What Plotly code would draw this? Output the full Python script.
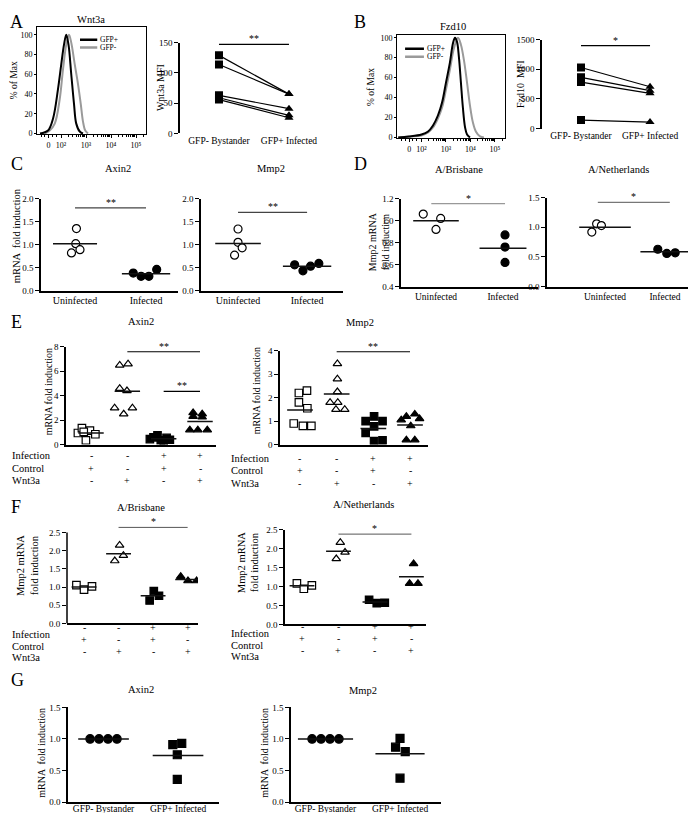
import numpy as np
import plotly.graph_objects as go

W, H = 696, 813
FONT = "Liberation Serif, Tinos, DejaVu Serif, Times New Roman, serif"

# ------------------------------------------------------------------ data
# Histograms (x in display decades: "0" sits at 1.5, 10^2 at 2, 10^3 at 3 ...)
hist_tickvals = [1.5, 2, 3, 4, 5]
hist_ticktext = ["0", "10\u00b2", "10\u00b3", "10\u2074", "10\u2075"]
hist_yticks = [0, 20, 40, 60, 80, 100]

wnt3a_pos_x = [1.16, 1.48, 1.68, 1.88, 2.01, 2.12, 2.21, 2.30, 2.41, 2.52, 2.61, 2.75, 2.88]
wnt3a_pos_y = [0, 3, 15, 45, 70, 90, 100, 90, 60, 30, 10, 2, 0]
wnt3a_neg_x = [1.35, 1.55, 1.75, 1.95, 2.08, 2.21, 2.32, 2.41, 2.55, 2.68, 2.79, 2.88, 2.97, 3.08]
wnt3a_neg_y = [0, 3, 10, 35, 65, 90, 100, 92, 70, 50, 30, 12, 3, 0]

fzd10_pos_x = [1.05, 1.5, 2.0, 2.27, 2.47, 2.67, 2.84, 3.0, 3.16, 3.29, 3.37, 3.45, 3.53, 3.61, 3.69, 3.78, 3.86, 3.98]
fzd10_pos_y = [0, 1, 3, 6, 12, 22, 35, 55, 75, 95, 100, 96, 80, 55, 30, 10, 3, 0]
fzd10_neg_x = [1.05, 1.5, 2.0, 2.27, 2.47, 2.67, 2.84, 3.0, 3.16, 3.33, 3.49, 3.61, 3.73, 3.86, 3.98, 4.1, 4.22, 4.39, 4.55]
fzd10_neg_y = [0, 1, 2, 5, 10, 19, 30, 48, 68, 90, 100, 93, 78, 55, 32, 15, 6, 1, 0]

# Paired MFI
mfi_cats = ["GFP- Bystander", "GFP+ Infected"]
wnt3a_bystander = [129, 114, 63, 59, 56]
wnt3a_infected = [65, 65, 41, 30, 26]
fzd10_bystander = [1030, 865, 785, 143]
fzd10_infected = [705, 640, 595, 110]

# C
c_cats = ["Uninfected", "Infected"]
c_axin2_uninf = [1.35, 1.02, 0.82, 0.89]
c_axin2_uninf_off = [0.02, 0.01, -0.05, 0.07]
c_axin2_inf = [0.38, 0.31, 0.31, 0.46]
c_axin2_inf_off = [-0.18, -0.07, 0.04, 0.15]
c_mmp2_uninf = [1.34, 1.05, 0.93, 0.77]
c_mmp2_uninf_off = [0.0, 0.0, 0.06, -0.05]
c_mmp2_inf = [0.56, 0.43, 0.53, 0.59]
c_mmp2_inf_off = [-0.18, -0.06, 0.05, 0.17]

# D
d_bris_uninf = [1.06, 1.02, 0.92]
d_bris_uninf_off = [-0.19, 0.07, 0.0]
d_bris_inf = [0.87, 0.76, 0.62]
d_bris_inf_off = [0.03, 0.03, 0.03]
d_neth_uninf = [1.06, 1.03, 0.92]
d_neth_uninf_off = [-0.14, -0.06, -0.22]
d_neth_inf = [0.63, 0.56, 0.57]
d_neth_inf_off = [-0.12, 0.03, 0.17]

# E  (groups: control, Wnt3a, infection+control, infection+Wnt3a)
e_axin2 = [
    [0.95, 1.35, 1.15, 0.85, 0.35, 1.05],
    [6.5, 6.6, 4.6, 4.4, 3.0, 2.5, 3.0],
    [0.75, 0.6, 0.55, 0.45, 0.4, 0.35, 0.25],
    [2.6, 2.5, 2.3, 2.25, 1.2, 1.2, 1.2],
]
e_axin2_off = [
    [-0.36, -0.25, -0.03, 0.12, -0.14, -0.2],
    [-0.21, 0.02, -0.21, -0.01, -0.35, -0.1, 0.14],
    [-0.17, -0.28, 0.08, -0.38, 0.17, -0.08, 0.0],
    [-0.19, 0.06, -0.19, 0.06, -0.28, -0.06, 0.2],
]
e_mmp2 = [
    [2.2, 2.3, 1.8, 1.55, 0.9, 0.8, 0.8],
    [3.45, 2.8, 2.25, 1.8, 1.8, 1.5, 1.5],
    [1.2, 1.0, 1.0, 0.78, 0.5, 0.15, 0.18],
    [1.3, 1.2, 1.1, 1.05, 0.8, 0.2, 0.2],
]
e_mmp2_off = [
    [-0.03, 0.19, -0.03, 0.2, -0.17, 0.08, 0.31],
    [0.02, 0.02, 0.02, -0.18, 0.03, -0.02, 0.22],
    [0.02, -0.21, 0.25, 0.02, -0.21, 0.02, 0.25],
    [0.13, -0.1, 0.26, -0.24, 0.02, -0.1, 0.13],
]

# F
f_bris = [[1.05, 0.93, 1.02], [2.15, 1.72, 1.87], [0.63, 0.89, 0.76], [1.29, 1.17, 1.17]]
f_bris_off = [[-0.22, 0.0, 0.23], [0.03, -0.11, 0.14], [-0.1, 0.02, 0.17], [-0.2, 0.01, 0.26]]
f_neth = [[1.08, 0.94, 1.03], [2.16, 1.73, 1.9], [0.65, 0.56, 0.57], [1.6, 1.08, 1.08]]
f_neth_off = [[-0.14, 0.05, 0.27], [0.05, -0.06, 0.18], [-0.16, 0.05, 0.27], [0.06, -0.05, 0.18]]

# G
g_cats = ["GFP- Bystander", "GFP+ Infected"]
g_axin2_by = [1.0, 1.0, 1.0, 1.0]
g_axin2_by_off = [-0.18, -0.06, 0.06, 0.18]
g_axin2_inf = [0.91, 0.93, 0.75, 0.36]
g_axin2_inf_off = [-0.07, 0.05, -0.01, -0.01]
g_mmp2_by = [1.0, 1.0, 1.0, 1.0]
g_mmp2_by_off = [-0.18, -0.06, 0.06, 0.18]
g_mmp2_inf = [1.01, 0.87, 0.8, 0.38]
g_mmp2_inf_off = [0.0, -0.06, 0.07, 0.0]

# treatment table
row_labels = ["Infection", "Control", "Wnt3a"]
infection_signs = ["-", "-", "+", "+"]
control_signs = ["+", "-", "+", "-"]
wnt3a_signs = ["-", "+", "-", "+"]

# significance bars: (group from, group to, height, label)
sig_a = (0, 1, 147, "**")
sig_b = (0, 1, 1400, "*")
sig_c_axin2 = (0, 1, 1.8, "**")
sig_c_mmp2 = (0, 1, 1.7, "**")
sig_d_bris = (-0.07, 1.03, 1.155, "*")
sig_d_neth = (-0.12, 1.08, 1.42, "*")
sig_e_axin2 = [(1, 3, 7.6, "**"), (2, 3, 4.36, "**")]
sig_e_mmp2 = (1, 3, 3.96, "**")
sig_f_bris = (1, 3, 2.64, "*")
sig_f_neth = (1, 3, 2.38, "*")

# ------------------------------------------------------------------ figure
fig = go.Figure()
layout = dict(width=W, height=H, margin=dict(l=0, r=0, t=0, b=0),
              paper_bgcolor="white", plot_bgcolor="white", showlegend=False,
              font=dict(family=FONT, color="black"))
annotations = []
shapes = []


def tf(size):
    return dict(family=FONT, size=size, color="black")


def make_axes(n, box, xr, yr, xopts, yopts):
    l, r, t, b = box
    base = dict(showgrid=False, zeroline=False, fixedrange=True,
                linecolor="black", tickcolor="black")
    sx = "" if n == 1 else str(n)
    xa = dict(base, domain=[l / W, r / W], range=xr, anchor="y" + sx)
    xa.update(xopts)
    ya = dict(base, domain=[1 - b / H, 1 - t / H], range=yr, anchor="x" + sx)
    ya.update(yopts)
    layout["xaxis" + sx] = xa
    layout["yaxis" + sx] = ya
    return "x" + sx, "y" + sx


def text(x, y, s, size=10.5, xanchor="center", yanchor="middle", angle=0, xref="paper", yref="paper"):
    if xref == "paper":
        x = x / W
    if yref == "paper":
        y = 1 - y / H
    annotations.append(dict(x=x, y=y, xref=xref, yref=yref, text=s, showarrow=False,
                            font=tf(size), xanchor=xanchor, yanchor=yanchor,
                            textangle=angle, borderpad=0))


def line_trace(xa, ya, xs, ys, color="black", width=1.5, shape="linear"):
    fig.add_trace(go.Scatter(x=xs, y=ys, xaxis=xa, yaxis=ya, mode="lines",
                             line=dict(color=color, width=width, shape=shape),
                             hoverinfo="skip"))


def sig(xa, ya, spec, color="black", width=1.0):
    x0, x1, yv, lab = spec
    line_trace(xa, ya, [x0, x1], [yv, yv], color=color, width=width)
    annotations.append(dict(x=(x0 + x1) / 2, y=yv, xref=xa, yref=ya, text=lab,
                            showarrow=False, yanchor="bottom", font=tf(10), yshift=-1,
                            borderpad=0))


def group(xa, ya, cat, vals, offs, symbol, filled, size, hw):
    xs = [cat + o for o in offs]
    fig.add_trace(go.Scatter(x=xs, y=vals, xaxis=xa, yaxis=ya, mode="markers",
                             marker=dict(symbol=symbol, size=size,
                                         color="black" if filled else "white",
                                         line=dict(color="black", width=1.2)),
                             hoverinfo="skip"))
    m = float(np.mean(vals))
    line_trace(xa, ya, [cat - hw, cat + hw], [m, m], color="#111", width=1.5)


def legend_entry(xa, ya, x0, x1, y, label, color):
    shapes.append(dict(type="line", xref=xa, yref=ya, x0=x0, x1=x1, y0=y, y1=y,
                       line=dict(color=color, width=2.5)))
    annotations.append(dict(x=x1, y=y, xref=xa, yref=ya, text=label, showarrow=False,
                            xanchor="left", xshift=2, font=tf(7.5), borderpad=0))


minor_vals = [d + np.log10(k) for d in (2, 3, 4) for k in range(2, 10)] + \
             [5 + np.log10(k) for k in (2, 3)] + [1.2, 1.35, 1.65, 1.8]

hist_x = dict(showline=True, mirror=True, linewidth=1, ticks="outside", ticklen=3,
              tickwidth=1, tickvals=hist_tickvals, ticktext=hist_ticktext, tickfont=tf(8),
              minor=dict(tickvals=minor_vals, ticks="outside", ticklen=2, tickcolor="black"))
hist_y = dict(showline=True, mirror=True, linewidth=1, ticks="outside", ticklen=2,
              tickwidth=1, tickvals=hist_yticks, tickfont=tf(8))


def yscat(vals, fmt=None, size=9):
    d = dict(showline=True, linewidth=1.5, ticks="outside", ticklen=4, tickwidth=1.2,
             tickvals=vals, tickfont=tf(size))
    if fmt:
        d["tickformat"] = fmt
    return d


def xcat(labels, size=10, line=True, standoff=0):
    return dict(showline=line, linewidth=1.5, ticks="", tickvals=list(range(len(labels))),
                ticktext=labels, tickfont=tf(size), ticklabelstandoff=standoff)


xnone = dict(showline=True, linewidth=1.8, ticks="", showticklabels=False, tickvals=[])

# ---- A histogram
xa, ya = make_axes(1, (29, 138, 14, 123), [1.04, 5.4], [-1, 108], hist_x, hist_y)
line_trace(xa, ya, wnt3a_neg_x, wnt3a_neg_y, color="#9a9a9a", width=2, shape="spline")
line_trace(xa, ya, wnt3a_pos_x, wnt3a_pos_y, color="black", width=2, shape="spline")
legend_entry(xa, ya, 2.76, 3.45, 95, "GFP+", "black")
legend_entry(xa, ya, 2.76, 3.45, 87, "GFP-", "#9a9a9a")
text(83, 7, "Wnt3a", 10.5)
text(6, 68, "% of Max", 9.5, angle=-90)

# ---- A paired
xa, ya = make_axes(2, (172, 315, 30, 122), [-0.557, 1.486], [0, 150],
                   xcat(mfi_cats, 9.5, line=False), yscat([0, 50, 100, 150]))
for b, a in zip(wnt3a_bystander, wnt3a_infected):
    line_trace(xa, ya, [0, 1], [b, a], width=1.2)
fig.add_trace(go.Scatter(x=[0] * len(wnt3a_bystander), y=wnt3a_bystander, xaxis=xa, yaxis=ya, mode="markers",
                         marker=dict(symbol="square", size=8, color="black"), hoverinfo="skip"))
fig.add_trace(go.Scatter(x=[1] * len(wnt3a_infected), y=wnt3a_infected, xaxis=xa, yaxis=ya, mode="markers",
                         marker=dict(symbol="triangle-up", size=8, color="black"), hoverinfo="skip"))
sig(xa, ya, sig_a, width=1.2)
text(152, 76, "Wnt3a MFI", 10, angle=-90)

# ---- B histogram
xa, ya = make_axes(3, (389, 497, 22, 127), [1.0, 5.41], [-1, 103], hist_x, hist_y)
line_trace(xa, ya, fzd10_neg_x, fzd10_neg_y, color="#9a9a9a", width=2, shape="spline")
line_trace(xa, ya, fzd10_pos_x, fzd10_pos_y, color="black", width=2, shape="spline")
legend_entry(xa, ya, 1.33, 2.1, 89, "GFP+", "black")
legend_entry(xa, ya, 1.33, 2.1, 81, "GFP-", "#9a9a9a")
text(445, 14, "Fzd10", 10.5)
text(363, 75, "% of Max", 9.5, angle=-90)

# ---- B paired
xa, ya = make_axes(4, (534, 680, 27, 117), [-0.565, 1.55], [0, 1500],
                   xcat(mfi_cats, 9.5, line=False), yscat([0, 500, 1000, 1500]))
for b, a in zip(fzd10_bystander, fzd10_infected):
    line_trace(xa, ya, [0, 1], [b, a], width=1.2)
fig.add_trace(go.Scatter(x=[0] * len(fzd10_bystander), y=fzd10_bystander, xaxis=xa, yaxis=ya, mode="markers",
                         marker=dict(symbol="square", size=8, color="black"), hoverinfo="skip"))
fig.add_trace(go.Scatter(x=[1] * len(fzd10_infected), y=fzd10_infected, xaxis=xa, yaxis=ya, mode="markers",
                         marker=dict(symbol="triangle-up", size=8, color="black"), hoverinfo="skip"))
sig(xa, ya, sig_b, width=1.2)
text(512, 72, "Fzd10  MFI", 10, angle=-90)

# ---- C
xa, ya = make_axes(5, (33, 170, 188, 281), [-0.479, 1.45], [0, 2],
                   xcat(c_cats), yscat([0, 0.5, 1, 1.5, 2], ".1f"))
group(xa, ya, 0, c_axin2_uninf, c_axin2_uninf_off, "circle", False, 8, 0.31)
group(xa, ya, 1, c_axin2_inf, c_axin2_inf_off, "circle", True, 8, 0.34)
sig(xa, ya, sig_c_axin2, color="#444", width=1.2)
text(110, 157, "Axin2")
text(8, 226, "mRNA  fold induction", 10.5, angle=-90)

xa, ya = make_axes(6, (193, 335, 188, 281), [-0.536, 1.52], [0, 2],
                   xcat(c_cats), yscat([0, 0.5, 1, 1.5, 2], ".1f"))
group(xa, ya, 0, c_mmp2_uninf, c_mmp2_uninf_off, "circle", False, 8, 0.33)
group(xa, ya, 1, c_mmp2_inf, c_mmp2_inf_off, "circle", True, 8, 0.35)
sig(xa, ya, sig_c_mmp2, color="#444", width=1.2)
text(263, 157, "Mmp2")

# ---- D
xa, ya = make_axes(7, (393, 530, 188, 277), [-0.522, 1.522], [0.4, 1.2],
                   xcat(c_cats, 9.5), yscat([0.4, 0.6, 0.8, 1.0, 1.2], ".1f"))
group(xa, ya, 0, d_bris_uninf, d_bris_uninf_off, "circle", False, 8, 0.34)
group(xa, ya, 1, d_bris_inf, d_bris_inf_off, "circle", True, 8, 0.35)
sig(xa, ya, sig_d_bris, color="#999", width=1.2)
text(451, 158, "A/Brisbane")
text(371, 232, "Mmp2 mRNA<br>fold induction", 10, angle=-90)

xa, ya = make_axes(8, (539, 690, 187, 277), [-0.967, 1.55], [0, 1.5],
                   xcat(c_cats, 9.5), yscat([0, 0.5, 1.0, 1.5], ".1f"))
group(xa, ya, 0, d_neth_uninf, d_neth_uninf_off, "circle", False, 8, 0.43)
group(xa, ya, 1, d_neth_inf, d_neth_inf_off, "circle", True, 8, 0.41)
sig(xa, ya, sig_d_neth, color="#777", width=1.2)
text(610, 158, "A/Netherlands")

# ---- E / F helpers
sym = [("square", False), ("triangle-up", False), ("square", True), ("triangle-up", True)]


def table(xa, label_x, rows_y):
    for lab, ry, signs in zip(row_labels, rows_y, [infection_signs, control_signs, wnt3a_signs]):
        text(label_x, ry, lab, 10.5, xanchor="left")
        for i, s in enumerate(signs):
            annotations.append(dict(x=i, y=1 - ry / H, xref=xa, yref="paper", text=s,
                                    showarrow=False, font=tf(10), borderpad=0))


def groups4(xa, ya, data, offs, size, hw):
    for i, (vals, off) in enumerate(zip(data, offs)):
        group(xa, ya, i, vals, off, sym[i][0], sym[i][1], size, hw)


# ---- E Axin2
xa, ya = make_axes(9, (58, 208, 338, 437), [-0.688, 3.44], [0, 8], xnone, yscat([0, 2, 4, 6, 8]))
groups4(xa, ya, e_axin2, e_axin2_off, 7.5, 0.35)
for s in sig_e_axin2:
    sig(xa, ya, s, width=1.2)
table(xa, 3, [448, 461, 473])
text(133, 312, "Axin2")
text(40, 384, "mRNA fold induction", 10, angle=-90)

# ---- E Mmp2
xa, ya = make_axes(10, (272, 420, 342, 437), [-0.545, 3.49], [0, 4], xnone, yscat([0, 1, 2, 3, 4]))
groups4(xa, ya, e_mmp2, e_mmp2_off, 7.5, 0.35)
sig(xa, ya, sig_e_mmp2, width=1.2)
table(xa, 222, [451, 463, 476])
text(352, 313, "Mmp2")
text(248, 383, "mRNA fold induction", 10, angle=-90)

# ---- F Brisbane (axis line drawn only up to 2.5, bar sits above it)
fy = yscat([0, 0.5, 1.0, 1.5, 2.0, 2.5], ".1f")
fy["showline"] = False
xa, ya = make_axes(11, (59, 190, 518.6, 618), [-0.493, 3.30], [0, 2.7], xnone, fy)
shapes.append(dict(type="line", xref=xa + " domain", yref=ya, x0=0, x1=0, y0=0, y1=2.5,
                   line=dict(color="black", width=1.5)))
groups4(xa, ya, f_bris, f_bris_off, 7.5, 0.36)
sig(xa, ya, sig_f_bris, color="#555", width=1.0)
table(xa, 3, [629, 641, 653])
text(133, 501, "A/Brisbane")
text(19, 560, "Mmp2 mRNA<br>fold induction", 10.5, angle=-90)

# ---- F Netherlands
xa, ya = make_axes(12, (277, 418, 523, 619), [-0.466, 3.40], [0, 2.5], xnone,
                   yscat([0, 0.5, 1.0, 1.5, 2.0, 2.5], ".1f"))
groups4(xa, ya, f_neth, f_neth_off, 7.5, 0.34)
sig(xa, ya, sig_f_neth, color="#555", width=1.0)
table(xa, 222, [628, 640, 652])
text(355, 498, "A/Netherlands")
text(240, 557, "Mmp2 mRNA<br>fold induction", 10.5, angle=-90)

# ---- G
xa, ya = make_axes(13, (60, 211, 703, 799), [-0.477, 1.55], [0, 1.5],
                   xcat(g_cats, 9.5, standoff=-3), yscat([0, 0.5, 1.0, 1.5], ".1f"))
group(xa, ya, 0, g_axin2_by, g_axin2_by_off, "circle", True, 8.5, 0.34)
group(xa, ya, 1, g_axin2_inf, g_axin2_inf_off, "square", True, 8, 0.34)
text(133, 685, "Axin2")
text(34, 749, "mRNA  fold induction", 10, angle=-90)

xa, ya = make_axes(14, (283, 433, 703, 799), [-0.463, 1.55], [0, 1.5],
                   xcat(g_cats, 9.5, standoff=-3), yscat([0, 0.5, 1.0, 1.5], ".1f"))
group(xa, ya, 0, g_mmp2_by, g_mmp2_by_off, "circle", True, 8.5, 0.37)
group(xa, ya, 1, g_mmp2_inf, g_mmp2_inf_off, "square", True, 8, 0.33)
text(355, 686, "Mmp2")
text(257, 749, "mRNA  fold induction", 10, angle=-90)

# ---- panel letters
for lab, x, y in [("A", 1, 9), ("B", 345, 9), ("C", 2, 153), ("D", 345, 153),
                  ("E", 2, 313), ("F", 2, 500), ("G", 2, 675)]:
    text(x, y, lab, 18, xanchor="left")

layout["annotations"] = annotations
layout["shapes"] = shapes
fig.update_layout(**layout)
fig.write_html("out.html")
